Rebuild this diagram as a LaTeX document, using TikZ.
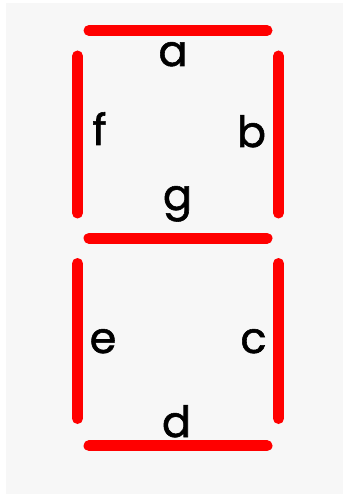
\documentclass[tikz,border=0pt]{standalone}
\usepackage{fontspec}
\setmainfont{Poppins}
\newfontfamily\lblfont{Poppins}[FakeBold=1.3]
\definecolor{panelgray}{HTML}{F7F7F7}
\definecolor{segred}{HTML}{FF0000}
\tikzset{
  seg/.style={draw=segred, line width=11pt, line cap=round},
  lbl/.style={anchor=base, inner sep=0pt, font=\lblfont\fontsize{43}{43}\selectfont, text=black}
}
\begin{document}
\begin{tikzpicture}[x=1pt,y=-1pt]
\useasboundingbox (0,0) rectangle (343,494);
\fill[white] (0,0) rectangle (343,494);
\fill[panelgray] (6,3) rectangle (343,494);
% segment end points
\coordinate (a1) at (89,30.5);  \coordinate (a2) at (267,30.5);
\coordinate (f1) at (77.5,56);  \coordinate (f2) at (77.5,213);
\coordinate (b1) at (278.5,56); \coordinate (b2) at (278.5,213);
\coordinate (g1) at (89,238.3); \coordinate (g2) at (267,238.3);
\coordinate (e1) at (77.5,263.5); \coordinate (e2) at (77.5,418.5);
\coordinate (c1) at (278.5,263.5); \coordinate (c2) at (278.5,418.5);
\coordinate (d1) at (89,445.7); \coordinate (d2) at (267,445.7);
\draw[seg] (a1) -- (a2);
\draw[seg] (f1) -- (f2);
\draw[seg] (b1) -- (b2);
\draw[seg] (g1) -- (g2);
\draw[seg] (e1) -- (e2);
\draw[seg] (c1) -- (c2);
\draw[seg] (d1) -- (d2);
% labels
\node[lbl] (la) at (173,66) {a};
\node[lbl] (lf) at (99.5,145) {f};
\node[lbl] (lb) at (251.5,147) {b};
\node[lbl] (lg) at (177.5,210) {g};
\node[lbl] (le) at (103,353) {e};
\node[lbl] (lc) at (253.5,353) {c};
\node[lbl] (ld) at (176.5,437) {d};
\end{tikzpicture}
\end{document}
